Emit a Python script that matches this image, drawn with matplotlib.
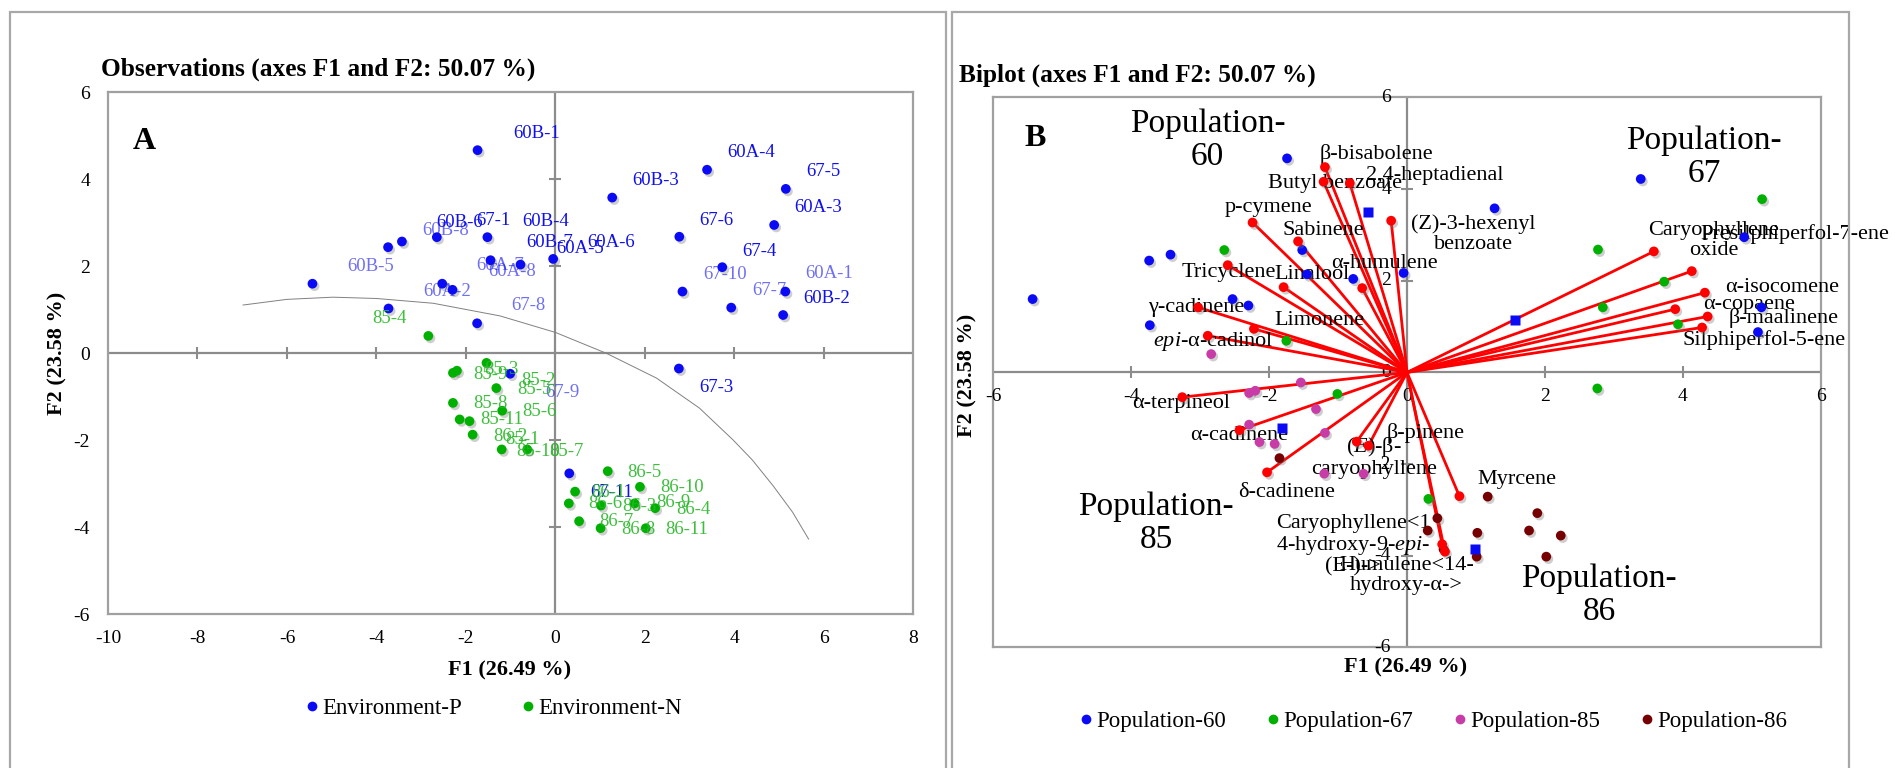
import matplotlib
matplotlib.use('Agg')
import matplotlib.pyplot as plt
import matplotlib.patheffects as pe
from matplotlib.lines import Line2D
from matplotlib.patches import Rectangle

# ---------------- DATA ----------------
obs_names = ['60B-1', '60A-4', '60B-3', '60A-3', '60B-6', '60B-8', '60B-4', '60B-7',
             '60A-5', '60A-6', '60B-5', '60A-7', '60A-8', '60A-2', '60A-1', '60B-2',
             '67-5', '67-6', '67-1', '67-4', '67-10', '67-7', '67-8', '67-3', '67-9', '67-11',
             '85-4', '85-9', '85-3', '85-2', '85-5', '85-8', '85-6', '85-11', '85-1', '85-10', '85-7',
             '86-2', '86-5', '86-10', '86-1', '86-6', '86-3', '86-9', '86-4', '86-7', '86-8', '86-11']
obs_x = [-1.74, 3.39, 1.27, 4.89, -3.43, -3.74, -1.52, -1.45,
         -0.78, -0.05, -5.43, -2.53, -2.30, -3.73, 5.14, 5.09,
         5.15, 2.77, -2.65, 3.73, 2.84, 3.93, -1.75, 2.76, -1.01, 0.31,
         -2.84, -2.29, -2.20, -1.54, -1.32, -2.29, -1.19, -2.14, -1.92, -1.20, -0.63,
         -1.85, 1.17, 1.89, 0.44, 0.30, 1.02, 1.77, 2.23, 0.53, 1.01, 2.02]
obs_y = [4.67, 4.22, 3.58, 2.95, 2.57, 2.44, 2.67, 2.14,
         2.04, 2.17, 1.60, 1.60, 1.46, 1.03, 1.42, 0.88,
         3.78, 2.68, 2.67, 1.98, 1.42, 1.05, 0.69, -0.35, -0.47, -2.76,
         0.40, -0.45, -0.40, -0.22, -0.80, -1.14, -1.32, -1.52, -1.56, -2.21, -2.21,
         -1.87, -2.71, -3.07, -3.18, -3.45, -3.50, -3.45, -3.56, -3.86, -4.02, -4.02]

# label anchors in panel A (left edge, centre) in F1/F2 units
obs_label_x = [-0.95, 3.84, 1.72, 5.35, -2.66, -2.97, -0.75, -0.66,
               0.01, 0.72, -4.65, -1.77, -1.51, -2.96, 5.59, 5.55,
               5.61, 3.22, -1.77, 4.18, 3.30, 4.39, -0.98, 3.21, -0.22, 0.78,
               -4.10, -1.84, -1.58, -0.76, -0.86, -1.84, -0.75, -1.69, -1.13, -0.87, -0.13,
               -1.39, 1.61, 2.35, 0.80, 0.74, 1.50, 2.26, 2.70, 0.99, 1.47, 2.46]
obs_label_y = [5.06, 4.61, 3.97, 3.35, 3.00, 2.83, 3.03, 2.54,
               2.42, 2.54, 1.99, 2.01, 1.87, 1.42, 1.84, 1.27,
               4.17, 3.06, 3.05, 2.34, 1.82, 1.44, 1.09, -0.79, -0.90, -3.20,
               0.79, -0.48, -0.37, -0.63, -0.83, -1.15, -1.33, -1.53, -1.99, -2.25, -2.25,
               -1.92, -2.74, -3.09, -3.20, -3.46, -3.53, -3.43, -3.60, -3.87, -4.05, -4.05]

populations = ['Population-60', 'Population-67', 'Population-85', 'Population-86']
environments = ['Environment-P', 'Environment-N']
pop_env = {'60': 'Environment-P', '67': 'Environment-P', '85': 'Environment-N', '86': 'Environment-N'}

# dividing curve drawn on panel A
curve_x = [-6.98, -6.0, -4.97, -4.0, -2.73, -1.24, 0.0, 1.14, 2.26, 3.22, 3.97, 4.40, 4.87, 5.30, 5.66]
curve_y = [1.11, 1.24, 1.29, 1.26, 1.15, 0.86, 0.48, 0.0, -0.57, -1.26, -1.99, -2.45, -3.05, -3.65, -4.27]

var_names = ['β-bisabolene', 'Butyl benzoate', '2,4-heptadienal', 'p-cymene',
             '(Z)-3-hexenyl benzoate', 'Sabinene', 'Tricyclene', 'Linalool', 'α-humulene',
             'γ-cadinene', 'Limonene', 'epi-α-cadinol', 'α-terpineol', 'α-cadinene',
             'δ-cadinene', '(E)-β-caryophyllene', 'β-pinene', 'Myrcene',
             'Caryophyllene<14-hydroxy-9-epi-(E)->', 'Humulene<14-hydroxy-α->',
             'Caryophyllene oxide', 'Presilphiperfol-7-ene', 'α-isocomene', 'α-copaene',
             'β-maalinene', 'Silphiperfol-5-ene']
var_x = [-1.19, -1.21, -0.83, -2.24, -0.23, -1.58, -2.60, -1.79, -0.65, -3.03, -2.22, -2.89,
         -3.26, -2.43, -2.03, -0.73, -0.56, 0.76, 0.51, 0.55, 3.58, 4.13, 4.32, 3.89, 4.36, 4.28]
var_y = [4.48, 4.16, 4.13, 3.27, 3.31, 2.86, 2.34, 1.86, 1.84, 1.42, 0.95, 0.80,
         -0.54, -1.26, -2.18, -1.51, -1.60, -2.70, -3.75, -3.91, 2.64, 2.21, 1.74, 1.38, 1.22, 0.98]
# displayed (wrapped) label text, anchor position and alignment
var_label_text = ['β-bisabolene', 'Butyl benzoate', '2,4-heptadienal', 'p-cymene',
                  '(Z)-3-hexenyl\nbenzoate', 'Sabinene', 'Tricyclene', 'Linalool', 'α-humulene',
                  'γ-cadinene', 'Limonene', r'$\mathit{epi}$-α-cadinol', 'α-terpineol', 'α-cadinene',
                  'δ-cadinene', '($\\mathit{E}$)-β-\ncaryophyllene', 'β-pinene', 'Myrcene',
                  'Caryophyllene<1\n4-hydroxy-9-$\\mathit{epi}$-\n(E-)->', 'Humulene<14-\nhydroxy-α->',
                  'Caryophyllene\noxide', 'Presilphiperfol-7-ene', 'α-isocomene', 'α-copaene',
                  'β-maalinene', 'Silphiperfol-5-ene']
var_label_x = [-1.26, -2.01, -0.60, -2.64, 0.96, -1.80, -3.27, -1.93, -1.10, -3.75, -1.93, -3.69,
               -3.98, -3.15, -2.45, -0.48, -0.29, 1.02, -0.78, -0.01, 4.45, 4.26, 4.61, 4.29, 4.67, 4.00]
var_label_y = [4.76, 4.13, 4.29, 3.60, 3.02, 3.09, 2.19, 2.13, 2.37, 1.41, 1.14, 0.67,
               -0.67, -1.38, -2.63, -1.85, -1.32, -2.33, -3.77, -4.43, 2.88, 3.02, 1.85, 1.49, 1.18, 0.71]
var_label_centered = {'(Z)-3-hexenyl benzoate', '(E)-β-caryophyllene',
                      'Caryophyllene<14-hydroxy-9-epi-(E)->', 'Humulene<14-hydroxy-α->',
                      'Caryophyllene oxide'}

centroid_x = [-0.57, 1.56, -1.81, 0.99]
centroid_y = [3.50, 1.14, -1.21, -3.86]

pop_label_x = [-2.89, 4.31, -3.64, 2.79]
pop_label_y = [5.07, 4.70, -3.29, -4.86]

xticks_A = [-10, -8, -6, -4, -2, 0, 2, 4, 6, 8]
yticks_A = [-6, -4, -2, 0, 2, 4, 6]
ticks_B = [-6, -4, -2, 0, 2, 4, 6]

# ---------------- STYLE ----------------
plt.rcParams['font.family'] = ['Liberation Serif', 'DejaVu Serif']
plt.rcParams['mathtext.fontset'] = 'custom'
plt.rcParams['mathtext.rm'] = 'Liberation Serif'
plt.rcParams['mathtext.it'] = 'Liberation Serif:italic'

BLUE = '#0a0af5'
GREEN = '#00b000'
MAGENTA = '#c83ca8'
DARKRED = '#760000'
RED = '#ff0000'
env_color = {'Environment-P': BLUE, 'Environment-N': GREEN}
pop_color = {'Population-60': BLUE, 'Population-67': GREEN,
             'Population-85': MAGENTA, 'Population-86': DARKRED}
light_labels = {'60B-5', '60A-2', '60A-7', '60A-8', '67-8', '67-10', '67-7', '60A-1', '67-9', '60B-8'}
AXGRAY = '#8c8c8c'
FRAMEGRAY = '#a0a0a0'
shadow = [pe.SimplePatchShadow(offset=(1.5, -1.8), shadow_rgbFace=(0.45, 0.45, 0.45), alpha=0.35), pe.Normal()]

W, H = 1896, 768
fig = plt.figure(figsize=(W / 100, H / 100), dpi=100)
fig.patch.set_facecolor('white')


def px_axes(l, t, r, b):
    return fig.add_axes([l / W, 1 - b / H, (r - l) / W, (b - t) / H])


def fx(x):
    return x / W


def fy(y):
    return 1 - y / H


# panel boxes
for (l, r) in [(10, 946), (952, 1849)]:
    fig.add_artist(Rectangle((fx(l), -0.1), fx(r) - fx(l), fy(12) + 0.1, transform=fig.transFigure,
                             fill=False, edgecolor='#a8a8a8', lw=1.6))

obs_pop = [n.split('-')[0][:2] for n in obs_names]

# ---------------- PANEL A ----------------
axA = px_axes(108, 92.3, 913.3, 614.3)
axA.set_xlim(-10, 8)
axA.set_ylim(-6, 6)
for s in axA.spines.values():
    s.set_color(FRAMEGRAY)
    s.set_linewidth(1.6)
axA.set_xticks(xticks_A)
axA.set_yticks(yticks_A)
axA.set_xticklabels([str(t) for t in xticks_A])
axA.set_yticklabels([str(t) for t in yticks_A])
axA.tick_params(axis='x', length=0, pad=11, labelsize=14)
axA.tick_params(axis='y', length=0, pad=13, labelsize=14)
axA.axhline(0, color=AXGRAY, lw=1.6, zorder=1)
axA.axvline(0, color=AXGRAY, lw=1.6, zorder=1)
axA.plot([t for t in xticks_A if t not in (-10, 8, 0)], [0] * 7, ls='none', marker='|', ms=9,
         mew=1.5, color=AXGRAY, zorder=1)
axA.plot([0] * 4, [t for t in yticks_A if t not in (-6, 6, 0)], ls='none', marker='_', ms=9,
         mew=1.5, color=AXGRAY, zorder=1)
axA.plot(curve_x, curve_y, color='#808080', lw=0.7, zorder=1, solid_joinstyle='round')

for env in environments:
    xs = [x for x, p in zip(obs_x, obs_pop) if pop_env[p] == env]
    ys = [y for y, p in zip(obs_y, obs_pop) if pop_env[p] == env]
    axA.plot(xs, ys, ls='none', marker='o', ms=7, color=env_color[env], mec='none',
             path_effects=shadow, zorder=3)

for n, p, lx, ly in zip(obs_names, obs_pop, obs_label_x, obs_label_y):
    env = pop_env[p]
    col = '#1010ee' if env == 'Environment-P' else '#28b828'
    alpha = 0.6 if n in light_labels else (0.9 if env == 'Environment-N' else 1.0)
    axA.text(lx, ly, n, color=col, alpha=alpha, fontsize=13.5, ha='left', va='center', zorder=4)

axA.text(-9.18, 4.86, 'A', fontsize=23, fontweight='bold', ha='center', va='center')

fig.text(fx(101), fy(69), 'Observations (axes F1 and F2: 50.07 %)', fontsize=18.3,
         fontweight='bold', ha='left', va='center')
fig.text(fx(510), fy(670), 'F1 (26.49 %)', fontsize=16, fontweight='bold', ha='center', va='center')
fig.text(fx(57), fy(353), 'F2 (23.58 %)', fontsize=16, fontweight='bold', ha='center', va='center',
         rotation=90)

handlesA = [Line2D([], [], ls='none', marker='o', ms=7, color=env_color[e], mec='none') for e in environments]
fig.legend(handlesA, environments, loc='center', bbox_to_anchor=(fx(494), fy(708)), ncol=2,
           frameon=False, fontsize=16.5, handlelength=0.5, handletextpad=0.2, columnspacing=2.6)

# ---------------- PANEL B ----------------
axB = px_axes(993.3, 97.4, 1820.7, 647.4)
axB.set_xlim(-6, 6)
axB.set_ylim(-6, 6)
for s in axB.spines.values():
    s.set_color(FRAMEGRAY)
    s.set_linewidth(1.6)
axB.set_xticks([])
axB.set_yticks([])
axB.axhline(0, color=AXGRAY, lw=1.6, zorder=1)
axB.axvline(0, color=AXGRAY, lw=1.6, zorder=1)
inner = [t for t in ticks_B if t not in (-6, 6, 0)]
axB.plot(inner, [0] * len(inner), ls='none', marker='|', ms=9, mew=1.5, color=AXGRAY, zorder=1)
axB.plot([0] * len(inner), inner, ls='none', marker='_', ms=9, mew=1.5, color=AXGRAY, zorder=1)
for t in ticks_B:
    axB.annotate(str(t), (t, 0), xytext=(0, -24), textcoords='offset pixels', ha='center',
                 va='center', fontsize=14, annotation_clip=False)
    axB.annotate(str(t), (0, t), xytext=(-16, 0), textcoords='offset pixels', ha='right',
                 va='center', fontsize=14, annotation_clip=False)

# vectors
for vx, vy in zip(var_x, var_y):
    axB.plot([0, vx], [0, vy], color=RED, lw=2.0, solid_capstyle='round', zorder=3)

# observations by population
for pop in populations:
    code = pop.split('-')[1]
    xs = [x for x, p in zip(obs_x, obs_pop) if p == code]
    ys = [y for y, p in zip(obs_y, obs_pop) if p == code]
    axB.plot(xs, ys, ls='none', marker='o', ms=7, color=pop_color[pop], mec='none',
             path_effects=shadow, zorder=5)

axB.plot(centroid_x, centroid_y, ls='none', marker='s', ms=7.5, color=BLUE, mec='none', zorder=5)
axB.plot(var_x, var_y, ls='none', marker='o', ms=7, color=RED, mec='none', path_effects=shadow, zorder=6)

for name, txt, lx, ly in zip(var_names, var_label_text, var_label_x, var_label_y):
    ha = 'center' if name in var_label_centered else 'left'
    axB.text(lx, ly, txt, fontsize=16, ha=ha, va='center', linespacing=1.05, zorder=4,
             clip_on=False)

for pop, px_, py_ in zip(populations, pop_label_x, pop_label_y):
    code = pop.split('-')[1]
    axB.text(px_, py_, 'Population-\n' + code, fontsize=24, ha='center', va='center',
             linespacing=1.12, zorder=4)

axB.text(-5.39, 5.10, 'B', fontsize=23, fontweight='bold', ha='center', va='center')

fig.text(fx(959), fy(75), 'Biplot (axes F1 and F2: 50.07 %)', fontsize=18.3, fontweight='bold',
         ha='left', va='center')
fig.text(fx(1406), fy(667), 'F1 (26.49 %)', fontsize=16, fontweight='bold', ha='center', va='center')
fig.text(fx(967), fy(375), 'F2 (23.58 %)', fontsize=16, fontweight='bold', ha='center', va='center',
         rotation=90)

handlesB = [Line2D([], [], ls='none', marker='o', ms=7, color=pop_color[p], mec='none') for p in populations]
fig.legend(handlesB, populations, loc='center', bbox_to_anchor=(fx(1434), fy(721)), ncol=4,
           frameon=False, fontsize=16.5, handlelength=0.5, handletextpad=0.2, columnspacing=1.8)

fig.savefig('out.png', dpi=100, facecolor='white')
